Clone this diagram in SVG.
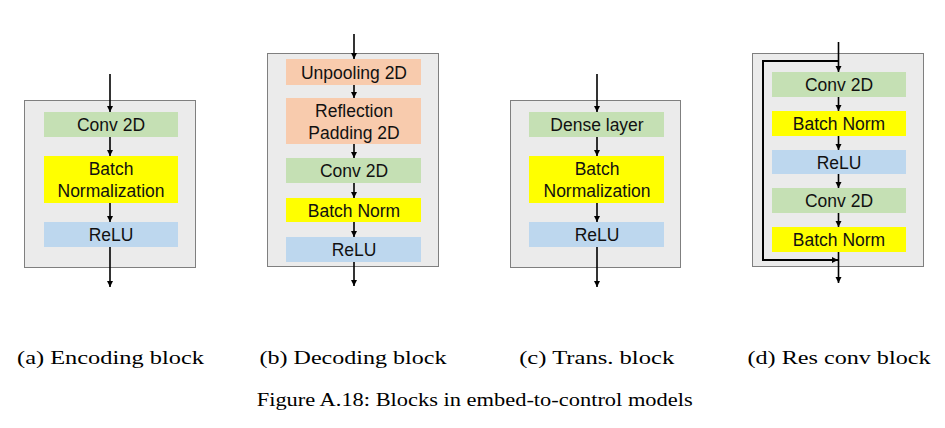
<svg xmlns="http://www.w3.org/2000/svg" width="945" height="428" viewBox="0 0 945 428">
<defs>
<marker id="ah" markerUnits="userSpaceOnUse" markerWidth="7" markerHeight="7" refX="6" refY="3" orient="auto">
<path d="M0,0 L6,3 L0,6 z" fill="#000"/>
</marker>
<style>
.panel{fill:#ebebeb;stroke:#7f7f7f;stroke-width:1}
.green{fill:#c5e0b4}
.yellow{fill:#ffff00}
.blue{fill:#bdd7ee}
.orange{fill:#f8cbad}
.lbl{font-family:"Liberation Sans",Arial,sans-serif;font-size:17.5px;fill:#111;text-anchor:middle}
.cap{font-family:"Liberation Serif","Times New Roman",serif;font-size:19.5px;fill:#000;text-anchor:middle}
.arr{stroke:#000;stroke-width:1.6;fill:none;marker-end:url(#ah)}
.skip{stroke:#000;stroke-width:2;fill:none;marker-end:url(#ah)}
</style>
</defs>
<rect width="945" height="428" fill="#fff"/>

<g id="panel-a">
<rect class="panel" x="24.5" y="100.5" width="171" height="167"/>
<g id="a-conv"><rect class="green" x="44" y="112" width="134" height="25"/><text class="lbl" x="111" y="131">Conv 2D</text></g>
<g id="a-bn"><rect class="yellow" x="44" y="156" width="134" height="47"/><text class="lbl" x="111" y="175">Batch</text><text class="lbl" x="111" y="196.5">Normalization</text></g>
<g id="a-relu"><rect class="blue" x="44" y="222" width="134" height="25"/><text class="lbl" x="111" y="241">ReLU</text></g>
</g>

<g id="panel-b">
<rect class="panel" x="267.5" y="53.5" width="171" height="213"/>
<g id="b-unpool"><rect class="orange" x="286" y="59" width="135" height="26"/><text class="lbl" x="354" y="78.5">Unpooling 2D</text></g>
<g id="b-refl"><rect class="orange" x="286" y="98" width="135" height="46"/><text class="lbl" x="354" y="117">Reflection</text><text class="lbl" x="354" y="138.5">Padding 2D</text></g>
<g id="b-conv"><rect class="green" x="286" y="158" width="135" height="25"/><text class="lbl" x="354" y="177">Conv 2D</text></g>
<g id="b-bn"><rect class="yellow" x="286" y="198" width="135" height="24"/><text class="lbl" x="354" y="216.5">Batch Norm</text></g>
<g id="b-relu"><rect class="blue" x="286" y="237" width="135" height="25"/><text class="lbl" x="354" y="256">ReLU</text></g>
</g>

<g id="panel-c">
<rect class="panel" x="510.5" y="100.5" width="170" height="167"/>
<g id="c-dense"><rect class="green" x="529" y="112" width="135" height="25"/><text class="lbl" x="597" y="131">Dense layer</text></g>
<g id="c-bn"><rect class="yellow" x="529" y="156" width="135" height="47"/><text class="lbl" x="597" y="175">Batch</text><text class="lbl" x="597" y="196.5">Normalization</text></g>
<g id="c-relu"><rect class="blue" x="529" y="222" width="135" height="25"/><text class="lbl" x="597" y="241">ReLU</text></g>
</g>

<g id="panel-d">
<rect class="panel" x="752.5" y="53.5" width="171" height="213"/>
<g id="d-conv1"><rect class="green" x="772" y="72" width="134" height="25"/><text class="lbl" x="839" y="91">Conv 2D</text></g>
<g id="d-bn1"><rect class="yellow" x="772" y="111" width="134" height="25"/><text class="lbl" x="839" y="130">Batch Norm</text></g>
<g id="d-relu"><rect class="blue" x="772" y="150" width="134" height="24"/><text class="lbl" x="839" y="168.5">ReLU</text></g>
<g id="d-conv2"><rect class="green" x="772" y="188" width="134" height="25"/><text class="lbl" x="839" y="207">Conv 2D</text></g>
<g id="d-bn2"><rect class="yellow" x="772" y="227" width="134" height="25"/><text class="lbl" x="839" y="246">Batch Norm</text></g>
</g>

<g id="connectors">
<line class="arr" x1="110" y1="74" x2="110" y2="112"/>
<line class="arr" x1="110" y1="137" x2="110" y2="156"/>
<line class="arr" x1="110" y1="203" x2="110" y2="222"/>
<line class="arr" x1="110" y1="247" x2="110" y2="287"/>

<line class="arr" x1="354" y1="34" x2="354" y2="59"/>
<line class="arr" x1="354" y1="85" x2="354" y2="98"/>
<line class="arr" x1="354" y1="144" x2="354" y2="158"/>
<line class="arr" x1="354" y1="183" x2="354" y2="198"/>
<line class="arr" x1="354" y1="222" x2="354" y2="237"/>
<line class="arr" x1="354" y1="262" x2="354" y2="286"/>

<line class="arr" x1="597" y1="74" x2="597" y2="112"/>
<line class="arr" x1="597" y1="137" x2="597" y2="156"/>
<line class="arr" x1="597" y1="203" x2="597" y2="222"/>
<line class="arr" x1="597" y1="247" x2="597" y2="287"/>

<line class="arr" x1="838.5" y1="42" x2="838.5" y2="72"/>
<line class="arr" x1="838.5" y1="97" x2="838.5" y2="111"/>
<line class="arr" x1="838.5" y1="136" x2="838.5" y2="150"/>
<line class="arr" x1="838.5" y1="174" x2="838.5" y2="188"/>
<line class="arr" x1="838.5" y1="213" x2="838.5" y2="227"/>
<line class="arr" x1="838.5" y1="252" x2="838.5" y2="283"/>
<path class="skip" d="M838.5,61 H763 V260 H838"/>
</g>

<g id="captions">
<text class="cap" x="110.5" y="364" textLength="187" lengthAdjust="spacingAndGlyphs">(a) Encoding block</text>
<text class="cap" x="353" y="364" textLength="187" lengthAdjust="spacingAndGlyphs">(b) Decoding block</text>
<text class="cap" x="596.7" y="364" textLength="155" lengthAdjust="spacingAndGlyphs">(c) Trans.  block</text>
<text class="cap" x="839" y="364" textLength="183" lengthAdjust="spacingAndGlyphs">(d) Res conv block</text>
<text class="cap" x="474.7" y="405.5" font-size="18.5" textLength="436" lengthAdjust="spacingAndGlyphs">Figure A.18: Blocks in embed-to-control models</text>
</g>
</svg>
